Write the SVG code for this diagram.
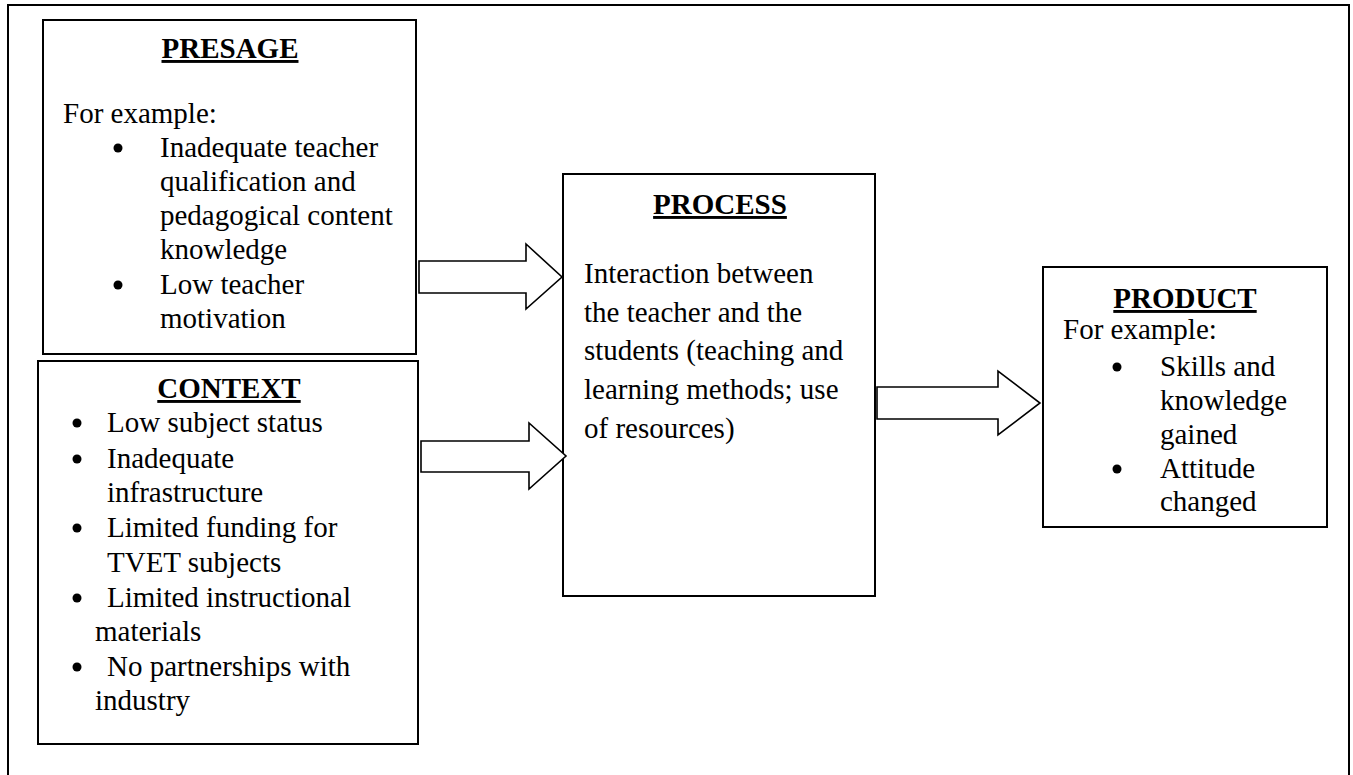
<svg xmlns="http://www.w3.org/2000/svg" width="1353" height="775" viewBox="0 0 1353 775">
<style>
.box{fill:#fff;stroke:#000;stroke-width:2}
.arr{fill:#fff;stroke:#000;stroke-width:1.6;stroke-linejoin:miter}
text{font-family:"Liberation Serif","Times New Roman",serif;font-size:29px;fill:#000}
.t{font-weight:bold;text-decoration:underline;text-anchor:middle}
</style>
<rect width="1353" height="775" fill="#fff"/>
<path d="M8,790 V5 H1349 V790" fill="none" stroke="#000" stroke-width="2"/>
<g id="presage">
<rect class="box" x="43" y="20" width="373" height="334"/>
<text class="t" x="230" y="58">PRESAGE</text>
<text x="63" y="123">For example:</text>
<circle cx="118" cy="148" r="4.5"/>
<text x="160" y="157">Inadequate teacher</text>
<text x="160" y="191">qualification and</text>
<text x="160" y="225">pedagogical content</text>
<text x="160" y="259">knowledge</text>
<circle cx="118" cy="285" r="4.5"/>
<text x="160" y="294">Low teacher</text>
<text x="160" y="328">motivation</text>
</g>
<g id="context">
<rect class="box" x="38" y="361" width="380" height="383"/>
<text class="t" x="229" y="398">CONTEXT</text>
<circle cx="77" cy="423" r="4.5"/>
<text x="107" y="432">Low subject status</text>
<circle cx="77" cy="459" r="4.5"/>
<text x="107" y="468">Inadequate</text>
<text x="107" y="502">infrastructure</text>
<circle cx="77" cy="528" r="4.5"/>
<text x="107" y="537">Limited funding for</text>
<text x="107" y="572">TVET subjects</text>
<circle cx="77" cy="598" r="4.5"/>
<text x="107" y="607">Limited instructional</text>
<text x="95" y="641">materials</text>
<circle cx="77" cy="667" r="4.5"/>
<text x="107" y="676">No partnerships with</text>
<text x="95" y="710">industry</text>
</g>
<g id="process">
<rect class="box" x="563" y="174" width="312" height="422"/>
<text class="t" x="720" y="214">PROCESS</text>
<text x="584" y="283">Interaction between</text>
<text x="584" y="322">the teacher and the</text>
<text x="584" y="360">students (teaching and</text>
<text x="584" y="399">learning methods; use</text>
<text x="584" y="438">of resources)</text>
</g>
<g id="product">
<rect class="box" x="1043" y="267" width="284" height="260"/>
<text class="t" x="1185" y="308">PRODUCT</text>
<text x="1063" y="339">For example:</text>
<circle cx="1117" cy="367" r="4.5"/>
<text x="1160" y="376">Skills and</text>
<text x="1160" y="410">knowledge</text>
<text x="1160" y="444">gained</text>
<circle cx="1117" cy="469" r="4.5"/>
<text x="1160" y="478">Attitude</text>
<text x="1160" y="511">changed</text>
</g>
<g id="connectors">
<path class="arr" d="M419,261 H526 V244 L562,277 L526,309 V293 H419 Z"/>
<path class="arr" d="M421,441 H529 V423 L566,456 L529,489 V472 H421 Z"/>
<path class="arr" d="M877,387 H998 V371 L1040,403 L998,435 V419 H877 Z"/>
</g>
</svg>
